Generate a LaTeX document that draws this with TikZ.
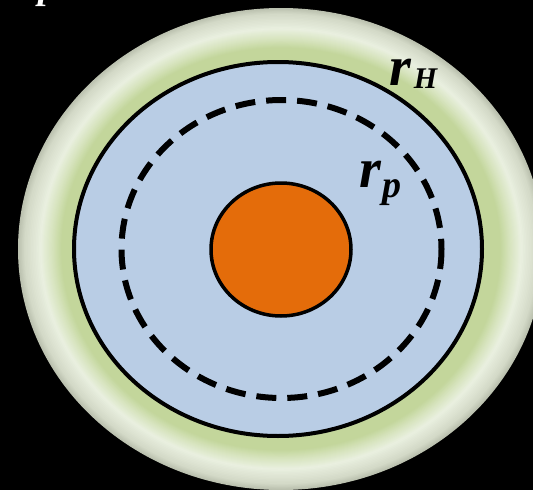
\documentclass[tikz,border=0pt]{standalone}
\usepackage{fontspec}
\usetikzlibrary{positioning}
\newfontfamily\labelfont{Liberation Serif}

\definecolor{ringgreen}{RGB}{195,214,155}
\definecolor{ringpale}{RGB}{216,229,192}
\definecolor{ringwhite}{RGB}{234,240,224}
\definecolor{ringmist}{RGB}{212,218,200}
\definecolor{ringedge}{RGB}{186,192,174}
\definecolor{zoneblue}{RGB}{185,205,229}
\definecolor{coreorange}{RGB}{228,108,10}

\begin{document}
\begin{tikzpicture}[x=1pt, y=-1pt,
    rimline/.style={line width=4pt, draw=black},
    dashline/.style={line width=6pt, draw=black, dash pattern=on 20pt off 11pt},
    biglabel/.style={inner sep=0pt, anchor=base west, font=\labelfont\bfseries\itshape}]
    % Frame
    \useasboundingbox (0,0) rectangle (533,490);
    \fill[black] (0,0) rectangle (533,490);

    % Outer halo, built up from the rim inwards
    \foreach \ro/\ri/\co/\ci in {1.000/0.975/ringedge/ringmist, 0.975/0.915/ringmist/ringwhite,
                                 0.915/0.875/ringwhite/ringpale, 0.875/0.835/ringpale/ringgreen}
      \foreach \s in {0,...,9} {
        \pgfmathsetmacro\f{\ro-(\ro-\ri)*\s/10}
        \pgfmathtruncatemacro\m{100-10*\s}
        \fill[\co!\m!\ci] (281,249) ellipse [x radius=263*\f, y radius=241*\f];
      }
    \fill[ringgreen] (281,249) ellipse [x radius=263*0.835, y radius=241*0.835];

    % Hill sphere
    \filldraw[fill=zoneblue, rimline] (278,249) ellipse [x radius=204, y radius=187];

    % Dashed boundary
    \draw[dashline] (281.5,249) ellipse [x radius=160, y radius=149];

    % Core
    \filldraw[fill=coreorange, line width=3.5pt] (281,249.5) ellipse [x radius=70, y radius=66.5];

    % Labels
    \node[biglabel] (rH) at (389,85)
      {{\fontsize{56}{56}\selectfont r}\kern3pt\raisebox{-3pt}{\fontsize{30}{30}\selectfont H}};
    \node[biglabel] (rp) at (359,187)
      {{\fontsize{56}{56}\selectfont r}\kern2pt\raisebox{-10pt}{\fontsize{38}{38}\selectfont p}};
    \node[biglabel, text=white] (ptop) at (38,-2)
      {\fontsize{38}{38}\selectfont p};
\end{tikzpicture}
\end{document}
